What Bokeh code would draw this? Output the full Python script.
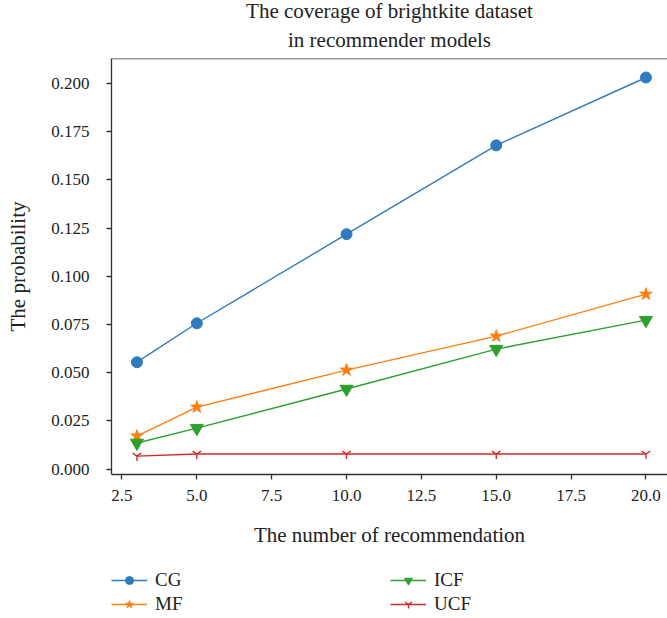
from bokeh.plotting import figure
from bokeh.layouts import column
from bokeh.models import (Range1d, FixedTicker, PrintfTickFormatter, Span, Legend, LegendItem, Title)
from bokeh.embed import file_html
from bokeh.resources import INLINE

x_vals = [3, 5, 10, 15, 20]
cg = [0.0554, 0.0756, 0.1218, 0.1679, 0.2031]
mf = [0.0171, 0.0321, 0.0513, 0.0689, 0.0907]
icf = [0.0135, 0.0212, 0.0415, 0.0622, 0.0772]
ucf = [0.0067, 0.0078, 0.0078, 0.0078, 0.0078]
series_names = ["CG", "MF", "ICF", "UCF"]
x_ticks = [2.5, 5.0, 7.5, 10.0, 12.5, 15.0, 17.5, 20.0]
y_ticks = [0.0, 0.025, 0.05, 0.075, 0.1, 0.125, 0.15, 0.175, 0.2]
title_lines = ["The coverage of brightkite dataset", "in recommender models"]

FONT = "Liberation Serif"
colors = ["#2f7bbf", "#ff7f0e", "#2ca02c", "#d62728"]
markers = ["circle", "star", "inverted_triangle", "y"]
msizes = [11, 13, 13, 10]

p = figure(width=667, height=560, output_backend="svg", toolbar_location=None,
           x_range=Range1d(2.15, 20.72), y_range=Range1d(-0.00285, 0.21295),
           min_border_left=111, min_border_right=0, min_border_top=58, min_border_bottom=86)
p.outline_line_color = None
p.grid.visible = False

t2 = Title(text=title_lines[1], align="center", text_font=FONT, text_font_size="21px",
           text_font_style="normal", text_color="#222222", standoff=14, text_line_height=1.0)
t1 = Title(text=title_lines[0], align="center", text_font=FONT, text_font_size="21px",
           text_font_style="normal", text_color="#222222", standoff=-8, text_line_height=1.0)
p.add_layout(t2, "above")
p.add_layout(t1, "above")

for ax in (p.xaxis[0], p.yaxis[0]):
    ax.axis_line_color = "#333333"
    ax.axis_line_width = 1.3
    ax.major_tick_line_color = "#333333"
    ax.major_tick_line_width = 1.3
    ax.major_tick_out = 5
    ax.major_tick_in = 0
    ax.minor_tick_line_color = None
    ax.major_label_text_font = FONT
    ax.major_label_text_font_size = "17px"
    ax.major_label_text_color = "#222222"
    ax.axis_label_text_font = FONT
    ax.axis_label_text_font_size = "21px"
    ax.axis_label_text_font_style = "normal"
    ax.axis_label_text_color = "#222222"

p.xaxis.ticker = FixedTicker(ticks=x_ticks)
p.xaxis.formatter = PrintfTickFormatter(format="%.1f")
p.yaxis.ticker = FixedTicker(ticks=y_ticks)
p.yaxis.formatter = PrintfTickFormatter(format="%.3f")
p.xaxis.axis_label = "The number of recommendation"
p.yaxis.axis_label = "The probability"
p.xaxis.axis_label_standoff = 19
p.yaxis.axis_label_standoff = 18
p.xaxis.major_label_standoff = 10
p.yaxis.major_label_standoff = 17

p.add_layout(Span(location=0.21295, dimension="width", line_color="#333333", line_width=1.3))

data = [cg, mf, icf, ucf]
for name, ys, c, m, s in zip(series_names, data, colors, markers, msizes):
    p.line(x_vals, ys, line_color=c, line_width=1.4)
    if m == "y":
        p.scatter(x_vals, ys, marker=m, size=s, fill_color=None, line_color=c, line_width=1.4)
    else:
        p.scatter(x_vals, ys, marker=m, size=s, fill_color=c, line_color=c)

# legend strip below the chart (its glyphs use the same series, kept outside the strip's view)
lf = figure(width=667, height=58, output_backend="svg", toolbar_location=None,
            x_range=Range1d(100, 101), y_range=Range1d(100, 101), x_axis_type=None, y_axis_type=None,
            min_border_left=0, min_border_right=0, min_border_top=0, min_border_bottom=0)
lf.outline_line_color = None
lf.grid.visible = False
items = []
for name, ys, c, m, s in zip(series_names, data, colors, markers, msizes):
    rl = lf.line(x_vals, ys, line_color=c, line_width=1.4)
    if m == "y":
        rm = lf.scatter(x_vals, ys, marker=m, size=s * 0.9, fill_color=None, line_color=c, line_width=1.4)
    else:
        rm = lf.scatter(x_vals, ys, marker=m, size=s * 0.9, fill_color=c, line_color=c)
    items.append(LegendItem(label=name, renderers=[rl, rm]))

lg = Legend(items=items, location=(0, 3), orientation="vertical", ncols=2)
lg.border_line_color = None
lg.background_fill_alpha = 0
lg.padding = 0
lg.margin = 0
lg.spacing = 2
lg.glyph_width = 36
lg.glyph_height = 20
lg.label_height = 20
lg.label_width = 233
lg.label_standoff = 8
lg.label_text_font = FONT
lg.label_text_font_size = "19px"
lg.label_text_color = "#222222"
lf.add_layout(lg, "center")

layout = column(p, lf, spacing=0)
open("out.html", "w").write(file_html(layout, INLINE))
